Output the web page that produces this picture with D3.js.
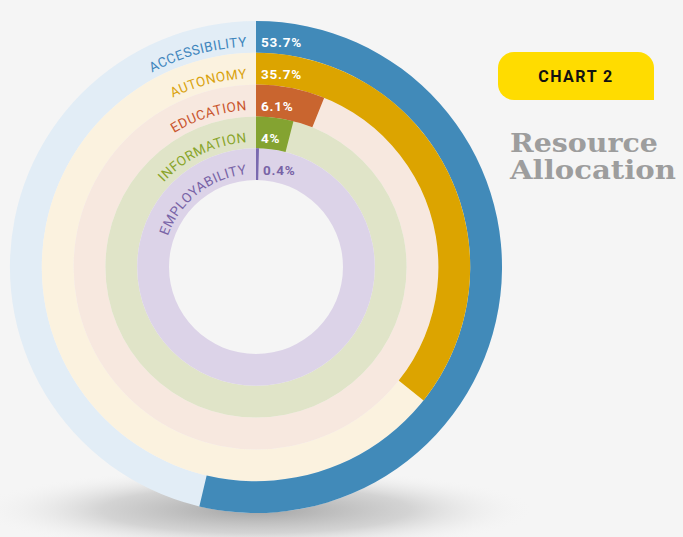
<!DOCTYPE html>
<html>
<head>
<meta charset="utf-8">
<script src="https://cdn.jsdelivr.net/npm/d3@7"></script>
<style>
  html, body { margin: 0; padding: 0; background: #f5f5f5; }
  svg { display: block; }
</style>
</head>
<body>
<div id="chart"></div>
<script>
// data
var categories = ["ACCESSIBILITY", "AUTONOMY", "EDUCATION", "INFORMATION", "EMPLOYABILITY"];
var values = [53.7, 35.7, 6.1, 4, 0.4];
var valueLabels = ["53.7%", "35.7%", "6.1%", "4%", "0.4%"];

// colours, same order as categories
var barColors = ["#418ab9", "#dca400", "#c9652f", "#84a331", "#7a6aaf"];
var trackColors = ["#e2edf6", "#fbf2df", "#f7e8df", "#e0e4c8", "#dcd3e8"];
var labelColors = ["#3f86bd", "#d9a20d", "#c9552e", "#89a52b", "#7863a6"];

var width = 683;
var height = 537;
var cx = 256, cy = 267;
var innerR = 87, outerR = 246;

var svg = d3.select("#chart")
    .append("svg")
    .attr("width", width)
    .attr("height", height);

svg.append("rect")
    .attr("width", width)
    .attr("height", height)
    .attr("fill", "#f5f5f5");

// soft shadow under the rings
var defs = svg.append("defs");
var grad = defs.append("radialGradient").attr("id", "shadow");
grad.append("stop").attr("offset", "0%").attr("stop-color", "#9a9a9a").attr("stop-opacity", 0.9);
grad.append("stop").attr("offset", "55%").attr("stop-color", "#b8b8b8").attr("stop-opacity", 0.55);
grad.append("stop").attr("offset", "100%").attr("stop-color", "#f5f5f5").attr("stop-opacity", 0);

svg.append("ellipse")
    .attr("cx", cx)
    .attr("cy", 510)
    .attr("rx", 280)
    .attr("ry", 42)
    .attr("fill", "url(#shadow)");

var g = svg.append("g")
    .attr("transform", "translate(" + cx + "," + cy + ")");

// ring scale, first category outermost
var r = d3.scaleBand()
    .domain(categories)
    .range([outerR, innerR])
    .padding(0);

var angle = d3.scaleLinear()
    .domain([0, 100])
    .range([0, 2 * Math.PI]);

var rows = categories.map(function (c, i) {
    return { cat: c, value: values[i], label: valueLabels[i], i: i };
});

var arc = d3.arc()
    .innerRadius(function (d) { return r(d.cat); })
    .outerRadius(function (d) { return r(d.cat) + r.bandwidth(); })
    .startAngle(0);

// background tracks
g.selectAll(".track")
    .data(rows)
    .enter().append("path")
    .attr("class", "track")
    .attr("d", function (d) { return arc.endAngle(2 * Math.PI)(d); })
    .attr("fill", function (d) { return trackColors[d.i]; });

// value bars
g.selectAll(".bar")
    .data(rows)
    .enter().append("path")
    .attr("class", "bar")
    .attr("d", function (d) { return arc.endAngle(angle(d.value))(d); })
    .attr("fill", function (d) { return barColors[d.i]; });

// curved category labels on the left, ending just before the top
rows.forEach(function (d) {
    var rad = r(d.cat) + r.bandwidth() / 2 - 9.5;
    var gap = 9 / rad;
    var a0 = -Math.PI * 0.9, a1 = -gap;
    var p = "M" + (rad * Math.sin(a0)) + "," + (-rad * Math.cos(a0)) +
        " A" + rad + "," + rad + " 0 0 1 " + (rad * Math.sin(a1)) + "," + (-rad * Math.cos(a1));
    g.append("path")
        .attr("id", "lab" + d.i)
        .attr("d", p)
        .attr("fill", "none");
    g.append("text")
        .style("font-family", "Roboto, 'DejaVu Sans', sans-serif")
        .style("font-size", "13.5px")
        .style("letter-spacing", "0.5px")
        .attr("fill", labelColors[d.i])
        .append("textPath")
        .attr("href", "#lab" + d.i)
        .attr("startOffset", "100%")
        .attr("text-anchor", "end")
        .text(d.cat);
});

// value labels
g.selectAll(".val")
    .data(rows)
    .enter().append("text")
    .attr("class", "val")
    .attr("x", function (d) { return d.value < 1 ? 7 : 5; })
    .attr("y", function (d) { return -(r(d.cat) + r.bandwidth() / 2) + 10.5; })
    .style("font-family", "Roboto, 'DejaVu Sans', sans-serif")
    .style("font-size", "13.5px")
    .style("font-weight", "bold")
    .style("letter-spacing", "0.8px")
    .attr("fill", function (d) { return d.value < 1 ? labelColors[d.i] : "#ffffff"; })
    .text(function (d) { return d.label; });

// badge
var bx = 498, by = 52, bw = 156, bh = 48, br = 16;
svg.append("path")
    .attr("d", "M" + (bx + br) + "," + by +
        " H" + (bx + bw - br) +
        " A" + br + "," + br + " 0 0 1 " + (bx + bw) + "," + (by + br) +
        " V" + (by + bh) +
        " H" + (bx + br) +
        " A" + br + "," + br + " 0 0 1 " + bx + "," + (by + bh - br) +
        " V" + (by + br) +
        " A" + br + "," + br + " 0 0 1 " + (bx + br) + "," + by + " Z")
    .attr("fill", "#ffdc00");

svg.append("text")
    .attr("x", bx + bw / 2)
    .attr("y", by + bh / 2 + 6)
    .attr("text-anchor", "middle")
    .style("font-family", "Roboto, 'DejaVu Sans', sans-serif")
    .style("font-size", "16px")
    .style("font-weight", "bold")
    .style("letter-spacing", "1.5px")
    .attr("fill", "#111")
    .text("CHART 2");

var titleLines = ["Resource", "Allocation"];
var titleWidths = [148, 166];
svg.selectAll(".title")
    .data(titleLines)
    .enter().append("text")
    .attr("class", "title")
    .attr("x", 510)
    .attr("y", function (d, i) { return 152 + i * 26.5; })
    .attr("textLength", function (d, i) { return titleWidths[i]; })
    .attr("lengthAdjust", "spacingAndGlyphs")
    .style("font-family", "'DejaVu Serif', serif")
    .style("font-size", "26px")
    .style("font-weight", "bold")
    .attr("fill", "#9d9d9d")
    .text(function (d) { return d; });
</script>
</body>
</html>
